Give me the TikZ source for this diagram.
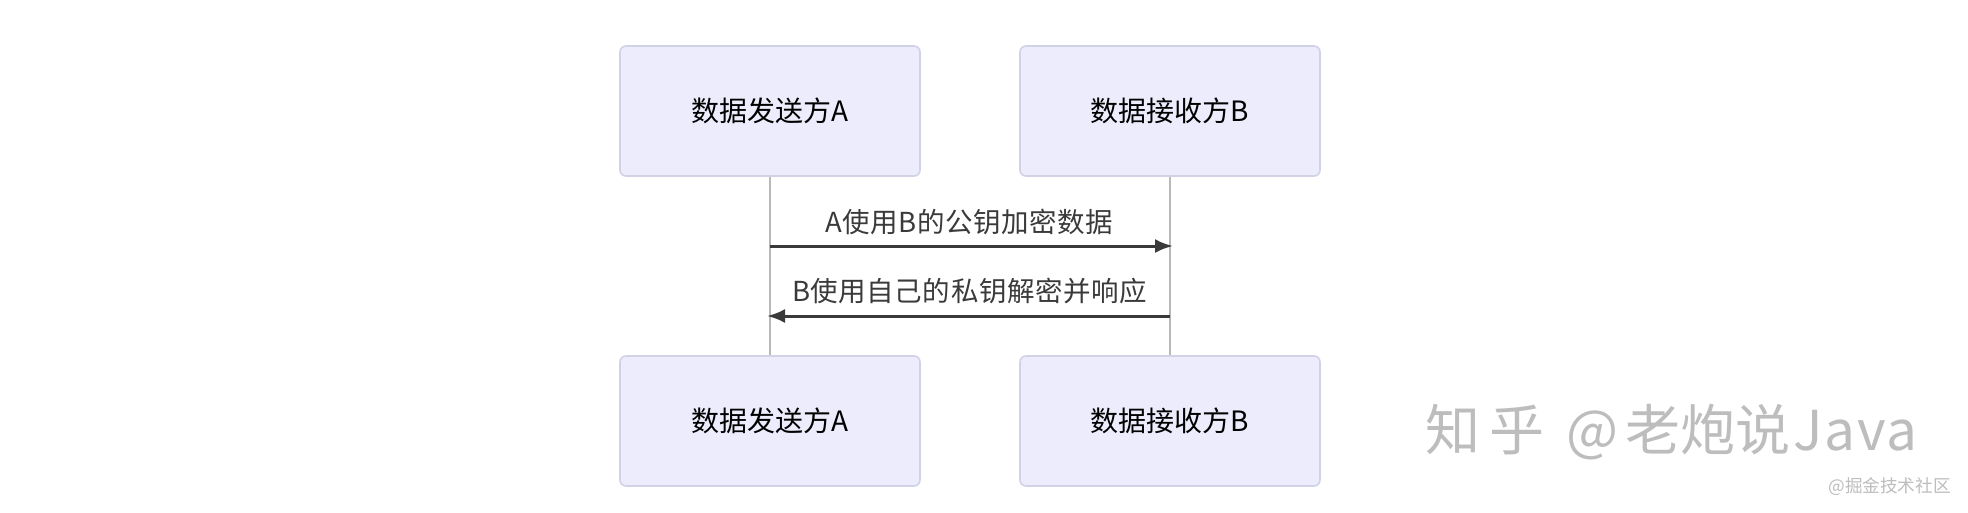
\documentclass[tikz,border=0pt]{standalone}
\usepackage{fontspec}
\setmainfont{Noto Sans CJK SC}
\newfontfamily\msgfont[LetterSpace=2]{Noto Sans CJK SC}
\newfontfamily\markfont[LetterSpace=3]{Noto Sans CJK SC}
\usetikzlibrary{arrows.meta}
\definecolor{boxfill}{HTML}{ECECFC}
\definecolor{boxline}{HTML}{D2D2E6}
\definecolor{msgline}{HTML}{3A3A3A}
\definecolor{markgray}{HTML}{BDBDBD}
\tikzset{
    actor/.style={draw=boxline, fill=boxfill, line width=1.6pt, rounded corners=6pt,
        minimum width=300pt, minimum height=130pt, font=\fontsize{28}{30}\selectfont, text=black},
    lifeline/.style={draw=black!28, line width=1.6pt},
    message/.style={draw=msgline, line width=3pt, -{Latex[length=18pt,width=14pt]}},
    msglabel/.style={text=msgline, inner sep=0pt, font=\fontsize{27.5}{29}\msgfont},
}
\begin{document}
\begin{tikzpicture}[x=1pt,y=-1pt]
    \useasboundingbox (0,0) rectangle (1968,512);
    \draw[draw=none, fill=white] (0,0) rectangle (1968,512);

    \node[actor] (a1) at (770,111) {数据发送方A};
    \node[actor] (b1) at (1170,111) {数据接收方B};
    \node[actor] (a2) at (770,421) {数据发送方A};
    \node[actor] (b2) at (1170,421) {数据接收方B};

    \draw[lifeline] (a1.south) -- (a2.north);
    \draw[lifeline] (b1.south) -- (b2.north);

    \coordinate (m1a) at (770,246);
    \coordinate (m1b) at (1173,246);
    \coordinate (m2a) at (767,316);
    \coordinate (m2b) at (1170,316);
    \draw[message] (m1a) -- (m1b);
    \draw[message] (m2b) -- (m2a);
    \node[msglabel] (l1) at (969,222) {A使用B的公钥加密数据};
    \node[msglabel] (l2) at (969.5,291) {B使用自己的私钥解密并响应};

    % watermarks
    \node[text=markgray, inner sep=0pt, font=\fontsize{55}{57}\selectfont] (zhihu) at (1671.5,432)
        {知\kern9pt 乎\hspace{10pt} @\kern7pt 老炮说\kern3pt {\markfont Java}};
    \node[text=markgray, inner sep=0pt, font=\fontsize{17.6}{19}\selectfont] (juejin) at (1889.5,487) {@掘金技术社区};
\end{tikzpicture}
\end{document}
